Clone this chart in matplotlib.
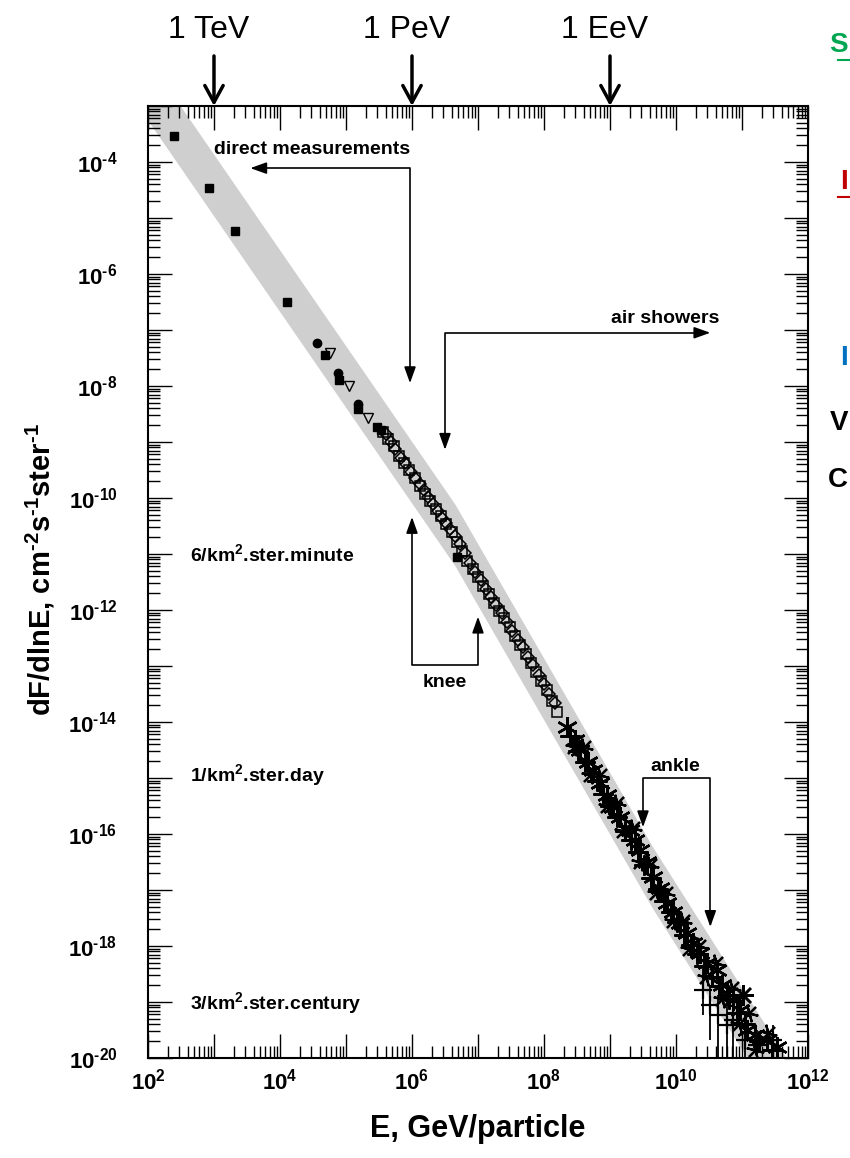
import numpy as np
import matplotlib
matplotlib.use('Agg')
import matplotlib.pyplot as plt
from matplotlib.ticker import LogLocator, FuncFormatter, NullFormatter
from matplotlib.lines import Line2D

plt.rcParams['font.family'] = 'Liberation Sans'
plt.rcParams['mathtext.fontset'] = 'custom'
plt.rcParams['mathtext.rm'] = 'Liberation Sans:bold'
plt.rcParams['mathtext.bf'] = 'Liberation Sans:bold'
plt.rcParams['mathtext.it'] = 'Liberation Sans:bold'
plt.rcParams['mathtext.default'] = 'bf'

# --- data, all as log10(E / GeV) and log10(flux) ---

# grey band: centre line and half thickness (decades)
band_lx = [2.0, 6.65, 9.64, 11.73]
band_mid = [-2.71, -10.66, -16.77, -20.66]
band_half = 0.55

# direct measurements, filled squares
sq_lx = [2.39, 2.92, 3.32, 4.11, 4.68, 4.89, 5.18, 5.47, 5.53, 6.68]
sq_ly = [-3.54, -4.46, -5.23, -6.50, -7.45, -7.89, -8.41, -8.73, -8.79, -11.05]

# filled circles
circ_lx = [4.56, 4.88, 5.18]
circ_ly = [-7.23, -7.77, -8.32]

# open triangles
tri_lx = [4.76, 5.05, 5.33]
tri_ly = [-7.41, -8.00, -8.57]

# air showers, open squares
osq_lx = [5.56, 5.64, 5.72, 5.80, 5.88, 5.96, 6.04, 6.12, 6.20, 6.28, 6.36, 6.44,
          6.52, 6.60, 6.68, 6.76, 6.84, 6.92, 7.00, 7.08, 7.16, 7.24, 7.32, 7.40,
          7.48, 7.56, 7.64, 7.72, 7.80, 7.88, 7.96, 8.04, 8.12, 8.20]
osq_ly = [-8.82, -8.95, -9.08, -9.25, -9.38, -9.50, -9.65, -9.78, -9.93, -10.05,
          -10.20, -10.33, -10.47, -10.60, -10.78, -10.95, -11.12, -11.27, -11.42,
          -11.57, -11.72, -11.87, -12.01, -12.15, -12.30, -12.46, -12.62, -12.78,
          -12.94, -13.10, -13.27, -13.43, -13.62, -13.82]

# air showers, open diamonds
dia_lx = [5.60, 5.68, 5.75, 5.84, 5.90, 5.99, 6.05, 6.12, 6.18, 6.25, 6.32, 6.40,
          6.46, 6.52, 6.58, 6.65, 6.72, 6.80, 6.88, 6.96, 7.04, 7.12, 7.20, 7.28,
          7.36, 7.44, 7.52, 7.60, 7.68, 7.76, 7.84, 7.92, 8.00, 8.08, 8.16]
dia_ly = [-8.85, -9.00, -9.12, -9.28, -9.37, -9.54, -9.64, -9.75, -9.85, -9.98,
          -10.10, -10.24, -10.35, -10.45, -10.55, -10.68, -10.82, -10.99, -11.17,
          -11.32, -11.47, -11.63, -11.77, -11.92, -12.05, -12.22, -12.37, -12.53,
          -12.67, -12.84, -12.99, -13.16, -13.32, -13.50, -13.66]

# highest energies, asterisks
st_lx = [8.35, 8.47, 8.55, 8.67, 8.74, 8.85, 8.96, 9.05, 9.15, 9.30, 9.38, 9.46,
         9.56, 9.65, 9.76, 9.86, 9.96, 10.06, 10.17, 10.26, 10.36, 10.47, 10.62,
         10.70, 10.77, 10.86, 10.97, 11.08, 11.20, 11.38, 11.53]
st_ly = [-14.09, -14.32, -14.50, -14.71, -14.86, -15.09, -15.30, -15.52, -15.70,
         -15.93, -16.11, -16.29, -16.50, -16.77, -16.96, -17.23, -17.39, -17.59,
         -17.77, -17.95, -18.13, -18.30, -18.43, -18.70, -18.84, -18.96, -19.14,
         -19.50, -19.59, -19.68, -19.80]
st2_lx = [8.40, 8.52, 8.62, 8.80, 8.90, 9.00, 9.10, 9.22, 9.32, 9.42, 9.52, 9.62,
          9.72, 9.82, 9.92, 10.02, 10.12, 10.22, 10.32, 10.42, 10.55, 10.65, 10.80,
          10.92, 11.05, 11.25, 11.45]
st2_ly = [-14.25, -14.52, -14.72, -15.05, -15.28, -15.50, -15.70, -15.95, -16.10,
          -16.32, -16.55, -16.78, -16.98, -17.20, -17.40, -17.58, -17.80, -17.98,
          -18.15, -18.35, -18.55, -18.72, -18.95, -19.20, -19.40, -19.70, -19.85]
st3_lx = [8.60, 8.85, 9.10, 9.35, 9.60, 9.85, 10.10, 10.35, 10.60, 10.85, 11.10,
          11.40, 8.45, 8.70, 8.95, 9.20, 9.45, 9.70, 9.95, 10.20, 10.45, 10.70,
          10.95, 11.20]
st3_ly = [-14.45, -14.95, -15.45, -15.90, -16.55, -17.05, -17.55, -18.00, -18.30,
          -18.75, -19.20, -19.55, -14.45, -14.95, -15.50, -15.95, -16.50, -17.05,
          -17.55, -18.05, -18.55, -18.95, -19.40, -19.85]
big_lx = [11.02]
big_ly = [-18.88]

# crosses with vertical error bars at the end of the spectrum
pl_lx = [10.41, 10.52, 10.64, 10.77, 10.86, 11.05, 11.23, 11.47]
pl_ly = [-18.79, -19.05, -19.23, -19.41, -19.32, -19.68, -19.77, -19.68]
pl_lo = [-19.23, -19.68, -20.3, -20.3, -20.3, -20.3, -20.3, -20.3]
pl_hi = [-18.34, -18.70, -18.88, -19.0, -19.05, -19.41, -19.50, -19.41]

rate_labels = ['6/km$^2$.ster.minute', '1/km$^2$.ster.day', '3/km$^2$.ster.century']
rate_ly = [-11.0, -14.94, -19.02]

top_labels = ['1 TeV', '1 PeV', '1 EeV']
top_lx = [3, 6, 9]

# --- figure ---
fig = plt.figure(figsize=(8.5, 11.58), dpi=100)
ax = fig.add_axes([0.1741, 0.0864, 0.7765, 0.8221])
ax.set_xscale('log')
ax.set_yscale('log')
ax.set_xlim(1e2, 1e12)
ax.set_ylim(1e-20, 1e-3)


def p(v):
    return 10.0 ** np.asarray(v, dtype=float)


mid = np.array(band_mid)
ax.fill_between(p(band_lx), p(mid - band_half), p(mid + band_half),
                color='#cfcfcf', lw=0, zorder=1)

ax.plot(p(sq_lx), p(sq_ly), 's', color='k', ms=6, zorder=3)
ax.plot(p(circ_lx), p(circ_ly), 'o', color='k', ms=6, zorder=3)
ax.plot(p(tri_lx), p(tri_ly), 'v', mfc='none', mec='k', ms=7, mew=1, zorder=3)
ax.plot(p(osq_lx), p(osq_ly), 's', mfc='none', mec='k', ms=7, mew=1.1, zorder=3)
ax.plot(p(dia_lx), p(dia_ly), 'D', mfc='none', mec='k', ms=6, mew=1.1, zorder=3)
ax.plot(p(st_lx), p(st_ly), ls='none', marker=(6, 2, 0), color='k', ms=15, mew=1.8, zorder=3)
ax.plot(p(st2_lx), p(st2_ly), ls='none', marker=(4, 2, 0), color='k', ms=14, mew=1.8, zorder=3)
ax.plot(p(st3_lx), p(st3_ly), ls='none', marker=(6, 2, 15), color='k', ms=13, mew=1.6, zorder=3)
ax.plot(p(big_lx), p(big_ly), ls='none', marker=(8, 2, 0), color='k', ms=15, mew=1.8, zorder=3)
ax.vlines(p(pl_lx), p(pl_lo), p(pl_hi), color='k', lw=1.3, zorder=3)
ax.plot(p(pl_lx), p(pl_ly), '+', color='k', ms=13, mew=1.6, zorder=3)

# --- axes styling ---
for s in ax.spines.values():
    s.set_linewidth(1.5)


def fmt(v, pos):
    e = int(round(np.log10(v)))
    if e % 2:
        return ''
    if e < 0:
        return r'$10^{\text{-}%d}$' % -e
    return r'$10^{%d}$' % e


for axis in (ax.xaxis, ax.yaxis):
    axis.set_major_locator(LogLocator(base=10, numticks=40))
    axis.set_minor_locator(LogLocator(base=10, subs=np.arange(2, 10), numticks=40))
    axis.set_major_formatter(FuncFormatter(fmt))
    axis.set_minor_formatter(NullFormatter())

ax.tick_params(which='both', direction='in', top=True, right=True, width=1)
ax.tick_params(which='major', length=17)
ax.tick_params(which='minor', length=8.5)
ax.tick_params(axis='x', labelsize=16, pad=8)
ax.tick_params(axis='y', labelsize=16, pad=22)

ax.set_xlabel('E, GeV/particle', fontsize=22, fontweight='bold', labelpad=14)
fig.text(40 / 850, 1 - 570 / 1158,
         r'dF/dlnE, cm$^{\text{-}2}$s$^{\text{-}1}$ster$^{\text{-}1}$',
         rotation=90, fontsize=21, fontweight='bold', ha='center', va='center')

# --- annotations ---
bold = dict(fontsize=14, fontweight='bold', ha='center', va='center')
arrow = dict(arrowstyle='-|>,head_length=0.7,head_width=0.25', color='k',
             lw=1.2, mutation_scale=14, shrinkA=0, shrinkB=0)


def elbow(pts, tips):
    xs, ys = zip(*pts)
    ax.plot(p(xs), p(ys), color='k', lw=1.2, zorder=4)
    for start, tip in tips:
        ax.annotate('', xy=(p(tip[0]), p(tip[1])), xytext=(p(start[0]), p(start[1])),
                    arrowprops=arrow, zorder=4)


ax.text(p(4.49), p(-3.77), 'direct measurements', **bold)
elbow([(3.70, -4.11), (5.97, -4.11), (5.97, -7.70)],
      [((3.70, -4.11), (3.55, -4.11)), ((5.97, -7.70), (5.97, -7.95))])

ax.text(p(9.83), p(-6.79), 'air showers', **bold)
elbow([(10.30, -7.05), (6.50, -7.05), (6.50, -8.90)],
      [((10.30, -7.05), (10.52, -7.05)), ((6.50, -8.90), (6.50, -9.14))])

ax.text(p(6.5), p(-13.30), 'knee', **bold)
elbow([(6.0, -10.60), (6.0, -12.98), (7.0, -12.98), (7.0, -12.38)],
      [((6.0, -10.60), (6.0, -10.34)), ((7.0, -12.38), (7.0, -12.12))])

ax.text(p(9.99), p(-14.80), 'ankle', **bold)
elbow([(9.50, -15.62), (9.50, -15.0), (10.52, -15.0), (10.52, -17.40)],
      [((9.50, -15.62), (9.50, -15.88)), ((10.52, -17.40), (10.52, -17.66))])

for lab, ly in zip(rate_labels, rate_ly):
    ax.text(p(2.64), p(ly), lab, fontsize=14, fontweight='bold', ha='left', va='center')

# energy markers above the frame
xtr = ax.get_xaxis_transform()
for lab, lx in zip(top_labels, top_lx):
    ax.annotate('', xy=(p(lx), 1.0), xytext=(p(lx), 1 + 50 / 952), xycoords=xtr,
                arrowprops=dict(arrowstyle='->,head_length=0.55,head_width=0.3',
                                color='k', lw=2.5, mutation_scale=22,
                                shrinkA=0, shrinkB=0),
                annotation_clip=False)
    ax.text(p(lx - 0.08), 1 + 76 / 952, lab, transform=xtr, fontsize=23,
            ha='center', va='center', clip_on=False)

# slide fragments at the right edge
frag = [('S', '#00a651', 45, True), ('I', '#c00000', 182, True),
        ('I', '#0070c0', 358, False), ('V', 'k', 423, False), ('C', 'k', 480, False)]
for ch, col, ypx, und in frag:
    fig.text(848 / 850, 1 - ypx / 1158, ch, color=col, fontsize=20, fontweight='bold',
             ha='right', va='center')
    if und:
        yy = 1 - (ypx + 15) / 1158
        fig.add_artist(Line2D([838 / 850, 849 / 850], [yy, yy], color=col, lw=1.5))

fig.savefig('out.png', dpi=100)
